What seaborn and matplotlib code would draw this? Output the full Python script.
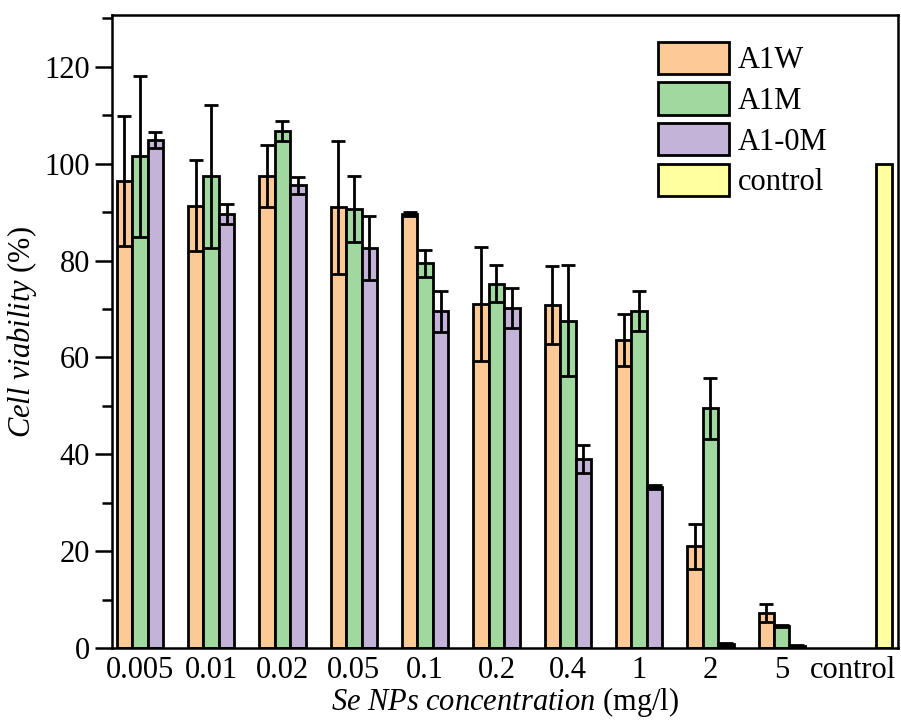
import matplotlib
matplotlib.use("Agg")
import matplotlib.pyplot as plt
import numpy as np
import pandas as pd
import seaborn as sns
from matplotlib.patches import Patch
from matplotlib.ticker import MultipleLocator

# Dados
concentracoes = ["0.005", "0.01", "0.02", "0.05", "0.1", "0.2", "0.4", "1", "2", "5"]
series = ["A1W", "A1M", "A1-0M"]
a1w = [96.5, 91.3, 97.5, 91.0, 89.6, 71.0, 70.8, 63.6, 21.0, 7.2]
a1w_err = [13.4, 9.4, 6.4, 13.7, 0.5, 11.7, 8.1, 5.4, 4.6, 1.9]
a1m = [101.5, 97.4, 106.7, 90.6, 79.4, 75.2, 67.6, 69.6, 49.5, 4.6]
a1m_err = [16.7, 14.8, 2.1, 6.8, 2.7, 3.8, 11.5, 4.1, 6.3, 0.2]
a10m = [104.9, 89.6, 95.5, 82.5, 69.5, 70.2, 39.0, 33.2, 0.8, 0.4]
a10m_err = [1.7, 2.0, 1.7, 6.6, 4.2, 4.1, 2.9, 0.4, 0.3, 0.2]
controle = 100.0
cores = ["#FCC997", "#A0D8A0", "#C3B3D8"]
cor_controle = "#FFFFA0"

sns.set_style("ticks")
plt.rcParams["font.family"] = ["Liberation Serif", "DejaVu Serif"]
plt.rcParams["mathtext.fontset"] = "custom"
plt.rcParams["mathtext.rm"] = "Liberation Serif"
plt.rcParams["mathtext.it"] = "Liberation Serif:italic"
plt.rcParams["text.color"] = "black"
plt.rcParams["axes.labelcolor"] = "black"
plt.rcParams["xtick.color"] = "black"
plt.rcParams["ytick.color"] = "black"

df = pd.DataFrame({
    "conc": concentracoes * 3,
    "serie": [s for s in series for _ in concentracoes],
    "valor": a1w + a1m + a10m,
})
ordem = concentracoes + ["control"]

fig = plt.figure(figsize=(9.01, 7.22), dpi=100)
ax = fig.add_axes([0.1243, 0.1025, 0.8724, 0.8767])

largura = 0.65
lw = 2.0
sns.barplot(
    data=df, x="conc", y="valor", hue="serie", order=ordem, hue_order=series,
    palette=cores, saturation=1, width=largura, errorbar=None,
    edgecolor="black", linewidth=lw, ax=ax, legend=False, zorder=2,
)

# barras de erro e barra de controle
w = largura / 3
idx = np.arange(len(concentracoes))
for k, (vals, errs) in enumerate([(a1w, a1w_err), (a1m, a1m_err), (a10m, a10m_err)]):
    ax.errorbar(idx + (k - 1) * w, vals, yerr=errs, fmt="none", ecolor="black",
                elinewidth=lw, capsize=5, capthick=lw, zorder=3)
ax.bar(len(concentracoes) + 2 * w, controle, width=w, color=cor_controle,
       edgecolor="black", linewidth=lw, zorder=2)

ax.set_xlim(-0.39, 10.63)
ax.set_ylim(0, 130.7)
ax.yaxis.set_major_locator(MultipleLocator(20))
ax.yaxis.set_minor_locator(MultipleLocator(10))
ax.tick_params(axis="y", which="major", length=12, width=1.8, labelsize=22, pad=4, direction="out")
ax.tick_params(axis="y", which="minor", length=7, width=1.8, direction="out")
ax.tick_params(axis="x", length=0, labelsize=22, pad=6)
for sp in ax.spines.values():
    sp.set_visible(True)
    sp.set_linewidth(1.8)
    sp.set_color("black")

ax.set_xlabel(r"$\mathit{Se\ NPs\ concentration}$ (mg/l)", fontsize=22, labelpad=0)
ax.set_ylabel(r"$\mathit{Cell\ viability}$ (%)", fontsize=22, labelpad=4)

handles = [Patch(facecolor=c, edgecolor="black", linewidth=lw) for c in cores + [cor_controle]]
ax.legend(handles, series + ["control"], loc="upper left", bbox_to_anchor=(0.695, 0.958),
          frameon=False, fontsize=22, handlelength=2.3, handleheight=1.25,
          labelspacing=0.24, handletextpad=0.3, borderpad=0, borderaxespad=0)

fig.savefig("out.png", dpi=100)
